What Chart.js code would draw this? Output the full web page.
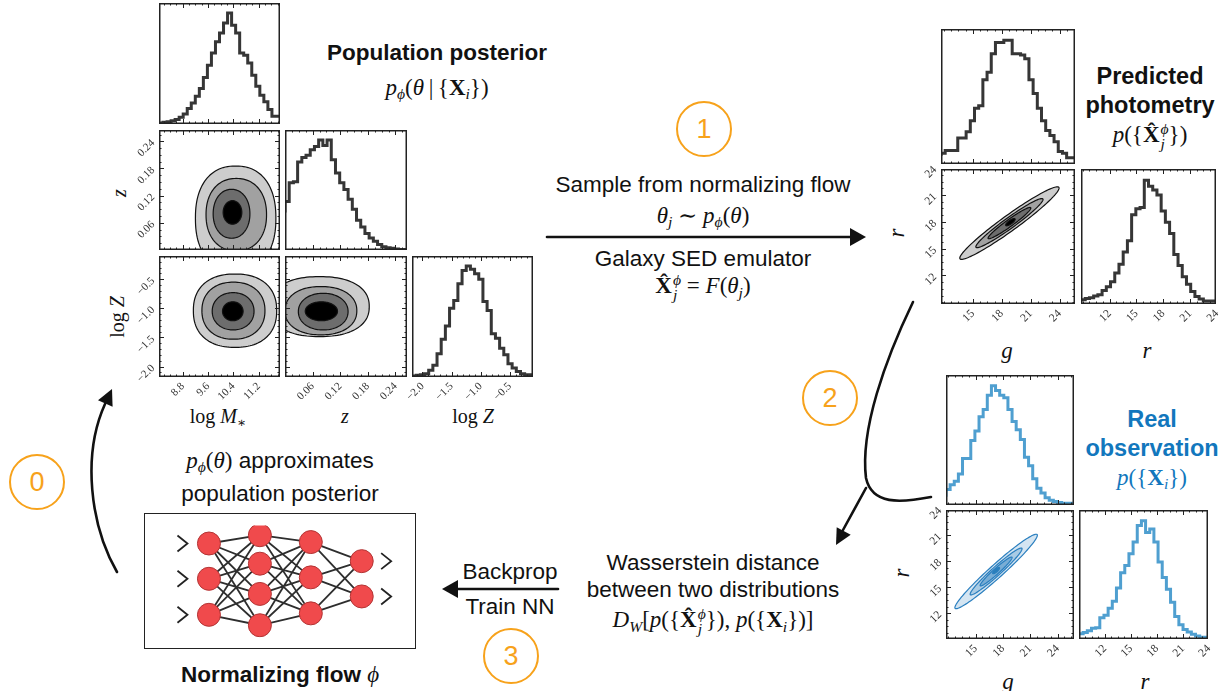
<!DOCTYPE html>
<html>
<head>
<meta charset="utf-8">
<title>Population inference loop</title>
<script src="https://cdn.jsdelivr.net/npm/chart.js@4.4.1/dist/chart.umd.min.js"></script>
<style>
  body { margin: 0; background: #fff; }
  #fig { position: relative; width: 1225px; height: 691px; overflow: hidden; background: #fff;
         font-family: "Liberation Sans", Arial, sans-serif; color: #111; }
  #fig canvas { position: absolute; }
  .t { position: absolute; transform: translate(-50%, -50%); white-space: nowrap; font-size: 22.5px; line-height: 1.15; }
  .b { font-weight: bold; }
  .m { font-family: "Liberation Serif", "DejaVu Serif", serif; font-size: 23px; }
  .m sub { font-size: 0.68em; vertical-align: -0.3em; line-height: 0; }
  .ss { display: inline-flex; flex-direction: column; font-size: 0.68em; line-height: 0.95; vertical-align: 0.5em; font-style: italic; margin-left: 1px; }
  .blue { color: #1277bd; }
  .ax { font-size: 20px; }
  .num { position: absolute; width: 52px; height: 52px; border: 2px solid #f7a21b; border-radius: 50%; color: #f7a21b;
         font-size: 27px; display: flex; align-items: center; justify-content: center; transform: translate(-50%, -50%); }
  .vt { transform: translate(-50%, -50%) rotate(-90deg); }
  #nnbox { position: absolute; left: 144px; top: 513px; width: 270px; height: 134px; border: 1.5px solid #222; }
</style>
</head>
<body>
<div id="fig">
  <div id="nnbox"></div>

  <svg width="1225" height="691" style="position:absolute;left:0;top:0">
    <g fill="none" stroke="#111" stroke-width="2.6" stroke-linecap="round">
      <path d="M117,572 C 90,525 82,455 105,404"/>
      <path d="M547,237 L853,237"/>
      <path d="M913,302 C 885,360 860,430 866,478 C 872,505 900,503 931,497"/>
      <path d="M866,488 L843,530"/>
      <path d="M558,589 L455,589"/>
    </g>
    <g fill="#111">
      <polygon points="112,389 112.6,406.8 98,400.2"/>
      <polygon points="866,237 850,228 850,246"/>
      <polygon points="836,545 850.7,534.8 836.7,527.2"/>
      <polygon points="442,589 458,580 458,598"/>
    </g>
  </svg>

  <div class="num" style="left:37px;top:482px">0</div>
  <div class="num" style="left:704px;top:129px">1</div>
  <div class="num" style="left:830px;top:398px">2</div>
  <div class="num" style="left:511px;top:656px">3</div>

  <div class="t b" style="left:437px;top:53px">Population posterior</div>
  <div class="t m" style="left:437px;top:88px"><i>p</i><sub><i>ϕ</i></sub>(<i>θ</i>&thinsp;|&thinsp;{<b>X</b><sub><i>i</i></sub>})</div>

  <div class="t" style="left:703px;top:185px">Sample from normalizing flow</div>
  <div class="t m" style="left:703px;top:216px"><i>θ</i><sub><i>j</i></sub> ∼ <i>p</i><sub><i>ϕ</i></sub>(<i>θ</i>)</div>
  <div class="t" style="left:703px;top:259px">Galaxy SED emulator</div>
  <div class="t m" style="left:703px;top:288px"><b>X&#770;</b><span class="ss"><span>ϕ</span><span>j</span></span> = <i>F</i>(<i>θ</i><sub><i>j</i></sub>)</div>

  <div class="t b" style="left:1150px;top:77px;font-size:23.5px">Predicted</div>
  <div class="t b" style="left:1150px;top:106px;font-size:23.5px">photometry</div>
  <div class="t m" style="left:1150px;top:137px"><i>p</i>({<b>X&#770;</b><span class="ss"><span>ϕ</span><span>j</span></span>})</div>

  <div class="t b blue" style="left:1152px;top:420px;font-size:23.5px">Real</div>
  <div class="t b blue" style="left:1152px;top:449px;font-size:23.5px">observation</div>
  <div class="t m blue" style="left:1152px;top:478px"><i>p</i>({<b>X</b><sub><i>i</i></sub>})</div>

  <div class="t" style="left:280px;top:461px"><span class="m"><i>p</i><sub><i>ϕ</i></sub>(<i>θ</i>)</span> approximates</div>
  <div class="t" style="left:280px;top:494px">population posterior</div>
  <div class="t b" style="left:280px;top:675px">Normalizing flow <i class="m" style="font-weight:normal">ϕ</i></div>

  <div class="t" style="left:510px;top:572px">Backprop</div>
  <div class="t" style="left:510px;top:607px">Train NN</div>
  <div class="t" style="left:713px;top:563px">Wasserstein distance</div>
  <div class="t" style="left:713px;top:590px">between two distributions</div>
  <div class="t m" style="left:713px;top:622px"><i>D</i><sub><i>W</i></sub>[<i>p</i>({<b>X&#770;</b><span class="ss"><span>ϕ</span><span>j</span></span>}), <i>p</i>({<b>X</b><sub><i>i</i></sub>})]</div>

  <!-- axis titles -->
  <div class="t m ax" style="left:218px;top:416px">log <i>M</i><sub>∗</sub></div>
  <div class="t m ax" style="left:345px;top:416px"><i>z</i></div>
  <div class="t m ax" style="left:473px;top:416px">log <i>Z</i></div>
  <div class="t m ax vt" style="left:119px;top:193px"><i>z</i></div>
  <div class="t m ax vt" style="left:117px;top:317px">log <i>Z</i></div>
  <div class="t m" style="left:1007px;top:351px"><i>g</i></div>
  <div class="t m" style="left:1147px;top:351px"><i>r</i></div>
  <div class="t m vt" style="left:897px;top:233px"><i>r</i></div>
  <div class="t m" style="left:1008px;top:682px"><i>g</i></div>
  <div class="t m" style="left:1145px;top:682px"><i>r</i></div>
  <div class="t m vt" style="left:902px;top:573px"><i>r</i></div>
</div>

<script>
/* =========================
   POPULATION POSTERIOR (left corner plot)
========================= */
const massRange = [8.05, 11.87];
const redshiftRange = [0, 0.265];
const metalRange = [-2.18, -0.1];
const histRange = [0, 109];

const massTicks = [8.8, 9.6, 10.4, 11.2];
const redshiftTicks = [0.06, 0.12, 0.18, 0.24];
const metalTicks = [-2.0, -1.5, -1.0, -0.5];

// bin heights in % of the tallest bin, left to right across the axis range
const massHist = [1, 1, 1.5, 2, 3, 4, 6, 9, 14, 19, 25, 32, 42, 53, 64, 74, 82, 91, 100, 89, 82, 64, 62, 55, 44, 34, 26, 20, 13, 7];
const redshiftHist = [34, 44, 61, 62, 80, 84, 86, 91, 94, 100, 95, 100, 82, 70, 61, 55, 46, 37, 27, 21, 15, 11, 8, 5, 3, 2, 1.5, 1, 0.5];
const metalHist = [1, 1, 1.5, 2, 3, 6, 10.5, 21, 34, 46, 62, 69, 84, 96, 100, 97, 93, 88, 68, 60, 39, 35, 26, 20, 12, 8, 5, 3, 2];

// contour levels, outer to inner: [centreX, centreY, radiusX, radiusY, angleDeg, squareness]
const massRedshiftLevels = [
  [10.47, 0.070, 1.27, 0.1155, 0, 2.3],
  [10.49, 0.078, 0.955, 0.080, 0, 2.2],
  [10.34, 0.080, 0.58, 0.054, 0, 2.1],
  [10.37, 0.083, 0.295, 0.026, 0, 2.0]
];
const massMetalLevels = [
  [10.45, -1.04, 1.315, 0.63, 0, 2.3],
  [10.40, -1.04, 0.995, 0.49, 0, 2.2],
  [10.39, -1.05, 0.66, 0.32, 0, 2.1],
  [10.38, -1.05, 0.325, 0.163, 0, 2.0]
];
const redshiftMetalLevels = [
  [0.075, -0.97, 0.108, 0.515, 0, 2.3],
  [0.078, -1.04, 0.078, 0.415, 0, 2.2],
  [0.083, -1.056, 0.054, 0.315, 0, 2.1],
  [0.079, -1.05, 0.035, 0.163, 0, 2.0]
];

/* =========================
   PHOTOMETRY (predicted / real)
========================= */
const gRangePred = [11.7, 25.6];
const rRangePred = [8.8, 23.9];
const gRangeReal = [11.75, 25.8];
const rRangeReal = [9.0, 23.9];
const gTicks = [15, 18, 21, 24];
const rTicks = [12, 15, 18, 21, 24];

const predGHist = [6.5, 8.6, 11, 11, 11, 21, 21, 26, 35, 45, 47, 68, 74, 89, 98, 98, 100, 100, 89, 89, 88, 85, 68, 57, 45, 35, 27, 23, 18, 10, 8.6, 5];
const predRHist = [3, 3.5, 4.5, 5, 6.5, 7.5, 11, 14, 18, 25, 32, 42, 51, 72, 77, 78, 100, 95, 92, 88, 75, 66, 57, 40, 31, 22, 16, 10, 6, 4, 2.5, 2.5];
const realGHist = [7, 13, 17, 20, 26, 39, 39, 54, 62, 74, 80, 92, 100, 96, 92, 90, 80, 70, 63, 55, 40, 33, 22, 14, 10, 6, 4, 3, 2, 1.5, 1.5];
const realRHist = [3.5, 4.5, 5.5, 7, 9, 9.5, 18, 20, 26, 32, 43, 56, 62, 72, 82, 96, 100, 90, 93, 82, 65, 52, 42, 31, 19, 12, 8, 6, 4, 2.5, 1.5];

const predLevels = [
  [18.8, 17.85, 6.5, 0.85, 38, 2],
  [18.8, 17.85, 4.4, 0.58, 38, 2],
  [18.8, 17.85, 2.8, 0.38, 38, 2],
  [18.9, 17.95, 0.6, 0.20, 38, 2]
];
const realLevels = [
  [17.25, 16.8, 6.2, 0.75, 43.5, 2],
  [17.25, 16.8, 3.9, 0.50, 43.5, 2],
  [17.25, 16.8, 2.4, 0.32, 43.5, 2],
  [17.25, 16.9, 0.5, 0.16, 43.5, 2]
];

/* =========================
   NETWORK SKETCH
========================= */
const layerX = [0, 1, 2, 3];
const layerNodes = [
  [0.98, 0, -1.0],
  [1.21, 0.42, -0.42, -1.29],
  [1.02, 0.04, -0.96],
  [0.49, -0.49]
];
const inputArrowX = -0.52;
const outputArrowX = 3.48;

/* =========================
   STYLE
========================= */
const SERIF = '"Liberation Serif", "DejaVu Serif", serif';
const INK = '#363636';
const BLUE = '#4f9fd0';
const GRAY_FILLS = ['#cdcdcd', '#a1a1a1', '#6d6d6d', '#000000'];
const BLUE_FILLS = ['#d4e5f2', '#a9cbe4', '#78add5', '#2a7fba'];
const LABEL_W = 34, LABEL_H = 34, EDGE = 10;

const fig = document.getElementById('fig');

function addCanvas(left, top, w, h) {
  const c = document.createElement('canvas');
  c.width = w; c.height = h;
  c.style.left = left + 'px'; c.style.top = top + 'px';
  c.style.width = w + 'px'; c.style.height = h + 'px';
  fig.appendChild(c);
  return c;
}

function histData(counts, range) {
  const w = (range[1] - range[0]) / counts.length;
  const pts = counts.map((c, i) => ({ x: range[0] + i * w, y: c }));
  pts.push({ x: range[1], y: counts[counts.length - 1] });
  return pts;
}

/* frame + inward ticks on all sides (matplotlib look) */
function frameTicks(cfg) {
  return {
    id: 'frameTicks',
    afterDatasetsDraw(chart) {
      const { ctx, chartArea: a } = chart;
      ctx.save();
      ctx.strokeStyle = '#222';
      ctx.lineWidth = 1;
      const mark = (axis, major, minor) => {
        const s = chart.scales[axis];
        const marks = [];
        const k0 = Math.ceil(s.min / minor - 1e-6), k1 = Math.floor(s.max / minor + 1e-6);
        for (let k = k0; k <= k1; k++) marks.push([k * minor, 2.5]);
        major.forEach(v => marks.push([v, 5]));
        ctx.beginPath();
        marks.forEach(([v, len]) => {
          const p = Math.round(s.getPixelForValue(v)) + 0.5;
          if (axis === 'x') {
            if (p < a.left || p > a.right) return;
            ctx.moveTo(p, a.bottom); ctx.lineTo(p, a.bottom - len);
            ctx.moveTo(p, a.top); ctx.lineTo(p, a.top + len);
          } else {
            if (p < a.top || p > a.bottom) return;
            ctx.moveTo(a.left, p); ctx.lineTo(a.left + len, p);
            ctx.moveTo(a.right, p); ctx.lineTo(a.right - len, p);
          }
        });
        ctx.stroke();
      };
      mark('x', cfg.xTicks, cfg.xMinor);
      if (cfg.yTicks) mark('y', cfg.yTicks, cfg.yMinor);
      ctx.lineWidth = 1.5;
      ctx.strokeRect(a.left + 0.75, a.top + 0.75, a.right - a.left - 1.5, a.bottom - a.top - 1.5);
      ctx.restore();
    }
  };
}

/* filled density contours, placed through the chart scales */
function contourFill(levels, fills, line) {
  return {
    id: 'contourFill',
    beforeDatasetsDraw(chart) {
      if (!levels) return;
      const { ctx, chartArea: a, scales: { x, y } } = chart;
      ctx.save();
      ctx.beginPath();
      ctx.rect(a.left, a.top, a.right - a.left, a.bottom - a.top);
      ctx.clip();
      levels.forEach(([cx, cy, rx, ry, deg, sq], i) => {
        const ang = deg * Math.PI / 180;
        ctx.beginPath();
        for (let k = 0; k <= 120; k++) {
          const t = k / 120 * 2 * Math.PI;
          const c = Math.cos(t), s = Math.sin(t);
          const u = Math.sign(c) * Math.pow(Math.abs(c), 2 / sq) * rx;
          const w = Math.sign(s) * Math.pow(Math.abs(s), 2 / sq) * ry;
          const px = x.getPixelForValue(cx + u * Math.cos(ang) - w * Math.sin(ang));
          const py = y.getPixelForValue(cy + u * Math.sin(ang) + w * Math.cos(ang));
          if (k) ctx.lineTo(px, py); else ctx.moveTo(px, py);
        }
        ctx.closePath();
        ctx.fillStyle = fills[i];
        ctx.fill();
        ctx.strokeStyle = line;
        ctx.lineWidth = 1.2;
        ctx.stroke();
      });
      ctx.restore();
    }
  };
}

function axisOptions(range, ticks, digits, show, horizontal, size) {
  return {
    type: 'linear', min: range[0], max: range[1], display: show,
    grid: { display: false, drawTicks: false }, border: { display: false },
    afterBuildTicks: s => { s.ticks = ticks.map(v => ({ value: v })); },
    afterFit: s => {
      // hidden axes take no room, shown ones a fixed strip
      if (horizontal) s.height = show ? LABEL_H : 0; else s.width = show ? LABEL_W : 0;
      s.paddingLeft = s.paddingRight = s.paddingTop = s.paddingBottom = 0;
    },
    ticks: {
      autoSkip: false, minRotation: 45, maxRotation: 45,
      padding: horizontal ? 3 : 6, color: '#333',
      font: { family: SERIF, size },
      callback: v => v.toFixed(digits).replace('-', '\u2212')
    }
  };
}

/* =========================
   ONE CORNER-PLOT PANEL
========================= */
function panel(cfg) {
  const [px, py, pw, ph] = cfg.rect;
  const padL = cfg.yLabels ? LABEL_W : 0;
  const padB = cfg.xLabels ? LABEL_H : 0;
  // a transparent margin all round so rotated labels at the ends are not cut
  const canvas = addCanvas(px - padL - EDGE, py - EDGE, pw + padL + 2 * EDGE, ph + padB + 2 * EDGE);
  const datasets = cfg.hist ? [{
    data: histData(cfg.hist, cfg.xRange), stepped: 'after',
    borderColor: cfg.color || INK, borderWidth: 3, pointRadius: 0, fill: false
  }] : [];
  new Chart(canvas, {
    type: 'line',
    data: { datasets },
    options: {
      responsive: false, animation: false, events: [],
      layout: { padding: EDGE },
      plugins: { legend: { display: false }, tooltip: { enabled: false } },
      scales: {
        x: axisOptions(cfg.xRange, cfg.xTicks, cfg.xDigits || 0, !!cfg.xLabels, true, cfg.fontSize || 11),
        y: axisOptions(cfg.yRange || histRange, cfg.yTicks || [], cfg.yDigits || 0, !!cfg.yLabels, false, cfg.fontSize || 11)
      }
    },
    plugins: [contourFill(cfg.levels, cfg.fills, cfg.line), frameTicks(cfg)]
  });
}

/* left corner plot */
panel({ rect: [159, 3, 121, 121], xRange: massRange, xTicks: massTicks, xMinor: 0.2, hist: massHist });
panel({ rect: [159, 130, 121, 120], xRange: massRange, yRange: redshiftRange, xTicks: massTicks, xMinor: 0.2,
        yTicks: redshiftTicks, yMinor: 0.015, yDigits: 2, yLabels: true,
        levels: massRedshiftLevels, fills: GRAY_FILLS, line: '#111' });
panel({ rect: [285, 130, 122, 120], xRange: redshiftRange, xTicks: redshiftTicks, xMinor: 0.015, hist: redshiftHist });
panel({ rect: [159, 256, 121, 121], xRange: massRange, yRange: metalRange, xTicks: massTicks, xMinor: 0.2, xDigits: 1, xLabels: true,
        yTicks: metalTicks, yMinor: 0.1, yDigits: 1, yLabels: true,
        levels: massMetalLevels, fills: GRAY_FILLS, line: '#111' });
panel({ rect: [285, 256, 122, 121], xRange: redshiftRange, yRange: metalRange, xTicks: redshiftTicks, xMinor: 0.015, xDigits: 2, xLabels: true,
        yTicks: metalTicks, yMinor: 0.1,
        levels: redshiftMetalLevels, fills: GRAY_FILLS, line: '#111' });
panel({ rect: [412, 256, 121, 121], xRange: metalRange, xTicks: metalTicks, xMinor: 0.1, xDigits: 1, xLabels: true, hist: metalHist });

/* predicted photometry */
panel({ rect: [941, 29, 134, 135], xRange: gRangePred, xTicks: gTicks, xMinor: 0.75, hist: predGHist });
panel({ rect: [941, 169, 134, 135], xRange: gRangePred, yRange: rRangePred, xTicks: gTicks, xMinor: 0.75, xLabels: true,
        yTicks: rTicks, yMinor: 0.75, yLabels: true, fontSize: 11.5,
        levels: predLevels, fills: GRAY_FILLS, line: '#111' });
panel({ rect: [1081, 169, 135, 135], xRange: rRangePred, xTicks: rTicks, xMinor: 0.75, xLabels: true, fontSize: 11.5, hist: predRHist });

/* real observation */
panel({ rect: [946, 375, 128, 130], xRange: gRangeReal, xTicks: gTicks, xMinor: 0.75, hist: realGHist, color: BLUE });
panel({ rect: [946, 510, 128, 129], xRange: gRangeReal, yRange: rRangeReal, xTicks: gTicks, xMinor: 0.75, xLabels: true,
        yTicks: rTicks, yMinor: 0.75, yLabels: true, fontSize: 11.5,
        levels: realLevels, fills: BLUE_FILLS, line: '#2a7fbf' });
panel({ rect: [1079, 510, 129, 129], xRange: rRangeReal, xTicks: rTicks, xMinor: 0.75, xLabels: true, fontSize: 11.5, hist: realRHist, color: BLUE });

/* =========================
   NORMALIZING FLOW NETWORK
========================= */
const edges = [];
for (let l = 0; l < layerNodes.length - 1; l++) {
  layerNodes[l].forEach(a => layerNodes[l + 1].forEach(b => {
    edges.push({ x: layerX[l], y: a }, { x: layerX[l + 1], y: b }, { x: null, y: null });
  }));
}
const nodes = layerNodes.flatMap((ys, l) => ys.map(y => ({ x: layerX[l], y })));
const arrowMarks = layerNodes[0].map(y => ({ x: inputArrowX, y }))
  .concat(layerNodes[layerNodes.length - 1].map(y => ({ x: outputArrowX, y })));

const chevrons = {
  id: 'chevrons',
  afterDatasetsDraw(chart) {
    const { ctx, scales: { x, y } } = chart;
    ctx.save();
    ctx.strokeStyle = '#222';
    ctx.lineWidth = 1.8;
    ctx.lineJoin = 'miter';
    arrowMarks.forEach(p => {
      const px = x.getPixelForValue(p.x), py = y.getPixelForValue(p.y);
      ctx.beginPath();
      ctx.moveTo(px - 5, py - 8); ctx.lineTo(px + 5, py); ctx.lineTo(px - 5, py + 8);
      ctx.stroke();
    });
    ctx.restore();
  }
};

new Chart(addCanvas(144, 513, 273, 137), {
  type: 'scatter',
  data: {
    datasets: [
      { data: edges, showLine: true, spanGaps: false, borderColor: '#2e2e2e', borderWidth: 1.8, pointRadius: 0, order: 1 },
      { data: nodes, pointRadius: 11.5, backgroundColor: '#f04a4c', borderColor: '#b23434', borderWidth: 1, order: 0 }
    ]
  },
  options: {
    responsive: false, animation: false, events: [],
    layout: { padding: 0 },
    plugins: { legend: { display: false }, tooltip: { enabled: false } },
    scales: {
      x: { type: 'linear', display: false, min: -1.03, max: 3.84 },
      y: { type: 'linear', display: false, min: -1.63, max: 1.48 }
    }
  },
  plugins: [chevrons]
});
</script>
</body>
</html>
